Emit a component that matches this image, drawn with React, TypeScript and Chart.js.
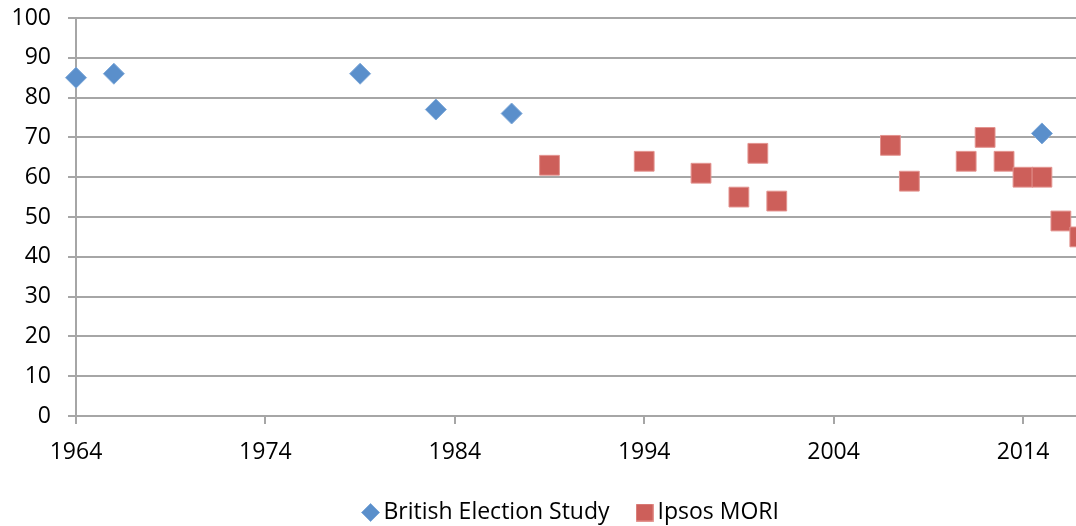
import React, { useEffect, useRef } from "react";
import { Chart, registerables } from "chart.js";

Chart.register(...registerables);

const besYears = [1964, 1966, 1979, 1983, 1987, 2015];
const besValues = [85, 86, 86, 77, 76, 71];
const ipsosYears = [1989, 1994, 1997, 1999, 2000, 2001, 2007, 2008, 2011, 2012, 2013, 2014, 2015, 2016, 2017];
const ipsosValues = [63, 64, 61, 55, 66, 54, 68, 59, 64, 70, 64, 60, 60, 49, 45];
const xTickValues = [1964, 1974, 1984, 1994, 2004, 2014];
const seriesNames = ["British Election Study", "Ipsos MORI"];

const CANVAS_W = 1148;
const CANVAS_H = 534;
const X_MAX = 2020.6;
const FONT = "'Open Sans', 'Noto Sans', sans-serif";
const FONT_SIZE = 23;
const BLUE = "#5A8FCB";
const BLUE_EDGE = "#7EA8D8";
const RED = "#CD5F5A";
const RED_EDGE = "#E39490";

function makeMarker(kind: "diamond" | "square"): HTMLCanvasElement {
  const c = document.createElement("canvas");
  const s = kind === "diamond" ? 19 : 18;
  c.width = s;
  c.height = s;
  const ctx = c.getContext("2d")!;
  ctx.beginPath();
  if (kind === "diamond") {
    ctx.moveTo(s / 2, 0.5);
    ctx.lineTo(s - 0.5, s / 2);
    ctx.lineTo(s / 2, s - 0.5);
    ctx.lineTo(0.5, s / 2);
    ctx.closePath();
    ctx.fillStyle = BLUE;
    ctx.strokeStyle = BLUE_EDGE;
  } else {
    ctx.rect(0.5, 0.5, s - 1, s - 1);
    ctx.fillStyle = RED;
    ctx.strokeStyle = RED_EDGE;
  }
  ctx.fill();
  ctx.lineWidth = 1;
  ctx.stroke();
  return c;
}

export default function App() {
  const ref = useRef<HTMLCanvasElement | null>(null);
  useEffect(() => {
    if (!ref.current) return;
    const markers = [makeMarker("diamond"), makeMarker("square")];
    const chart = new Chart(ref.current, {
      type: "scatter",
      data: {
        datasets: [
          {
            label: seriesNames[0],
            data: besYears.map((x, i) => ({ x, y: besValues[i] })),
            pointStyle: "rectRot",
            pointRadius: 10.5,
            backgroundColor: BLUE,
            borderColor: BLUE_EDGE,
            borderWidth: 1,
            clip: false,
          },
          {
            label: seriesNames[1],
            data: ipsosYears.map((x, i) => ({ x, y: ipsosValues[i] })),
            pointStyle: "rect",
            pointRadius: 14,
            backgroundColor: RED,
            borderColor: RED_EDGE,
            borderWidth: 1,
            clip: false,
          },
        ],
      },
      options: {
        responsive: false,
        animation: false,
        layout: { autoPadding: false, padding: { top: 18, left: 0, right: 0, bottom: 0 } },
        plugins: {
          tooltip: { enabled: false },
          legend: {
            position: "bottom",
            labels: {
              usePointStyle: true,
              boxWidth: 3,
              boxHeight: 18,
              padding: 33.5,
              color: "#000",
              font: { family: FONT, size: FONT_SIZE },
              generateLabels: (c: any) => {
                const items = Chart.defaults.plugins.legend.labels.generateLabels(c);
                return items.map((it: any, i: number) => ({ ...it, pointStyle: markers[i] }));
              },
            },
          },
        },
        scales: {
          x: {
            type: "linear",
            min: 1964,
            max: X_MAX,
            afterBuildTicks: (scale: any) => {
              scale.ticks = xTickValues.map((v) => ({ value: v }));
            },
            afterFit: (scale: any) => {
              scale.height = 51.5;
              scale.paddingLeft = 0;
              scale.paddingRight = 0;
            },
            grid: {
              drawOnChartArea: false,
              drawTicks: true,
              tickLength: 8,
              color: "#A6A6A6",
              lineWidth: 2,
            },
            border: { display: true, color: "#A6A6A6", width: 2 },
            ticks: {
              color: "#000",
              font: { family: FONT, size: FONT_SIZE },
              padding: 15,
              maxRotation: 0,
              autoSkip: false,
              callback: (v: any) => String(v),
            },
          },
          y: {
            min: 0,
            max: 100,
            afterFit: (scale: any) => {
              scale.width = 76;
              scale.paddingTop = 14;
              scale.paddingBottom = 14;
            },
            grid: {
              color: "#A6A6A6",
              lineWidth: 2,
              tickLength: 8,
            },
            border: { display: true, color: "#A6A6A6", width: 2 },
            ticks: {
              stepSize: 10,
              color: "#000",
              font: { family: FONT, size: FONT_SIZE },
              padding: 17,
            },
          },
        },
      },
    });
    return () => chart.destroy();
  }, []);
  return (
    <div
      style={{
        position: "fixed",
        left: 0,
        top: 0,
        width: 1076,
        height: 526,
        overflow: "hidden",
        background: "#fff",
      }}
    >
      <canvas ref={ref} width={CANVAS_W} height={CANVAS_H} style={{ display: "block" }} />
    </div>
  );
}
